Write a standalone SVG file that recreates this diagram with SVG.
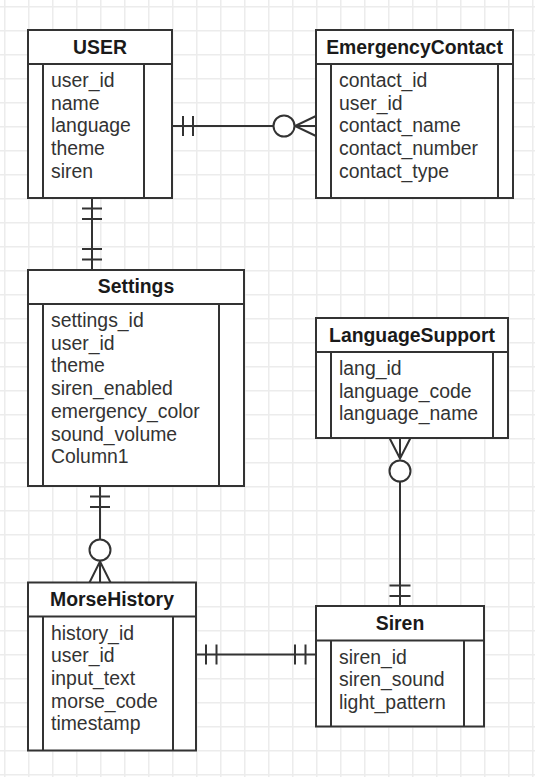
<svg xmlns="http://www.w3.org/2000/svg" width="535" height="777" viewBox="0 0 535 777">
<defs>
<pattern id="grid" x="4" y="6" width="24" height="24" patternUnits="userSpaceOnUse">
<path d="M0 0H24M0 0V24" fill="none" stroke="#ececec" stroke-width="3"/>
</pattern>
</defs>
<style>
.box{fill:#fff;stroke:#333;stroke-width:2}
.ln{fill:none;stroke:#333;stroke-width:2}
.hd{font-family:"Liberation Sans",Arial,sans-serif;font-size:19.4px;font-weight:bold;fill:#1a1a1a;text-anchor:middle}
.rw{font-family:"Liberation Sans",Arial,sans-serif;font-size:19.4px;fill:#333}
.cn{fill:none;stroke:#333;stroke-width:2}
.cc{fill:#fff;stroke:#333;stroke-width:2}
</style>
<rect width="535" height="777" fill="#fff"/>
<rect width="535" height="777" fill="url(#grid)"/>

<g id="connectors">
<!-- USER - EmergencyContact -->
<path class="cn" d="M172 126H274M183 116V136M193 116V136M316 126H295M316 116L295 126L316 136"/>
<circle class="cc" cx="284" cy="126" r="10.5"/>
<!-- USER - Settings -->
<path class="cn" d="M92 198V270M82 208.5H102M82 219H102M82 249H102M82 259.5H102"/>
<!-- Settings - MorseHistory -->
<path class="cn" d="M100 486V540M90 496.5H110M90 507H110M100 582.5V561.5M89.5 582.5L100 561.5L110.5 582.5"/>
<circle class="cc" cx="100" cy="550" r="10.5"/>
<!-- MorseHistory - Siren -->
<path class="cn" d="M196 654.5H316M206 644.5V664.5M216.5 644.5V664.5M295 644.5V664.5M305.5 644.5V664.5"/>
<!-- LanguageSupport - Siren -->
<path class="cn" d="M400 438V458.5M389.5 438L400 458.5L410.5 438M400 482V606M389.5 585.5H410.5M389.5 596H410.5"/>
<circle class="cc" cx="400" cy="471" r="10.5"/>
</g>

<g id="USER">
<rect class="box" x="28" y="30" width="144" height="168"/>
<path class="ln" d="M28 64H172M43 64V198M144 64V198"/>
<text class="hd" x="100" y="53.5">USER</text>
<text class="rw" x="51" y="87">user_id</text>
<text class="rw" x="51" y="109.7">name</text>
<text class="rw" x="51" y="132.4">language</text>
<text class="rw" x="51" y="155.1">theme</text>
<text class="rw" x="51" y="177.8">siren</text>
</g>

<g id="EmergencyContact">
<rect class="box" x="316" y="30" width="197" height="168"/>
<path class="ln" d="M316 64H513M331 64V198M498 64V198"/>
<text class="hd" x="414.5" y="53.5">EmergencyContact</text>
<text class="rw" x="339" y="87">contact_id</text>
<text class="rw" x="339" y="109.7">user_id</text>
<text class="rw" x="339" y="132.4">contact_name</text>
<text class="rw" x="339" y="155.1">contact_number</text>
<text class="rw" x="339" y="177.8">contact_type</text>
</g>

<g id="Settings">
<rect class="box" x="28" y="270" width="216" height="216"/>
<path class="ln" d="M28 304H244M43 304V486M219 304V486"/>
<text class="hd" x="136" y="293">Settings</text>
<text class="rw" x="51" y="327">settings_id</text>
<text class="rw" x="51" y="349.7">user_id</text>
<text class="rw" x="51" y="372.4">theme</text>
<text class="rw" x="51" y="395.1">siren_enabled</text>
<text class="rw" x="51" y="417.8">emergency_color</text>
<text class="rw" x="51" y="440.5">sound_volume</text>
<text class="rw" x="51" y="463.2">Column1</text>
</g>

<g id="LanguageSupport">
<rect class="box" x="316" y="318" width="192" height="120"/>
<path class="ln" d="M316 352H508M331 352V438M493 352V438"/>
<text class="hd" x="412" y="341.5">LanguageSupport</text>
<text class="rw" x="339" y="375">lang_id</text>
<text class="rw" x="339" y="397.7">language_code</text>
<text class="rw" x="339" y="420.4">language_name</text>
</g>

<g id="MorseHistory">
<rect class="box" x="28" y="582.5" width="168" height="168"/>
<path class="ln" d="M28 616.5H196M43 616.5V750.5M173 616.5V750.5"/>
<text class="hd" x="112" y="606">MorseHistory</text>
<text class="rw" x="51" y="639.5">history_id</text>
<text class="rw" x="51" y="662.2">user_id</text>
<text class="rw" x="51" y="684.9">input_text</text>
<text class="rw" x="51" y="707.6">morse_code</text>
<text class="rw" x="51" y="730.3">timestamp</text>
</g>

<g id="Siren">
<rect class="box" x="316" y="606" width="168" height="120.5"/>
<path class="ln" d="M316 640.5H484M331 640.5V726.5M464 640.5V726.5"/>
<text class="hd" x="400" y="629.5">Siren</text>
<text class="rw" x="339" y="663.5">siren_id</text>
<text class="rw" x="339" y="686.2">siren_sound</text>
<text class="rw" x="339" y="708.9">light_pattern</text>
</g>
</svg>
